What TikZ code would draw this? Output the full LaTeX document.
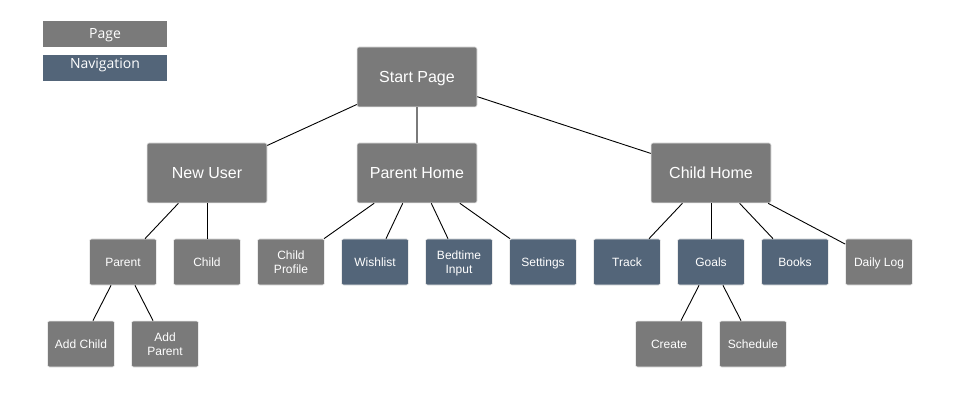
\documentclass[tikz,border=0pt]{standalone}
\usepackage{fontspec}
\setmainfont{Liberation Sans}
\newfontfamily\legendfont{Open Sans}
\definecolor{pagegray}{HTML}{7A7A7A}
\definecolor{navblue}{HTML}{536579}
\begin{document}
\begin{tikzpicture}[x=1pt,y=-1pt,
  box/.style={rectangle, rounded corners=2pt, inner sep=0pt, text=white, align=center, text depth=0pt, draw=white!85!pagegray, line width=0.6pt},
  bigbox/.style={box, fill=pagegray, minimum width=120pt, minimum height=60pt, font=\fontsize{16}{19}\selectfont},
  pagebox/.style={box, fill=pagegray, minimum width=67pt, minimum height=46pt, font=\fontsize{12}{13.5}\selectfont},
  navbox/.style={pagebox, fill=navblue},
  legendbox/.style={rectangle, inner sep=0pt, text depth=0pt, minimum width=124pt, minimum height=26pt, text=white, font=\legendfont\fontsize{14}{16}\selectfont},
  link/.style={draw=black, line width=0.9pt}]
\useasboundingbox[fill=white] (0,0) rectangle (960,403);
% legend
\node[legendbox, fill=pagegray] (lgpage) at (105,34) {Page};
\node[legendbox, fill=navblue] (lgnav) at (105,68) {\raisebox{9.5pt}{Navigation}};
% level 1-2
\node[bigbox] (start) at (417,77) {Start Page};
\node[bigbox] (newuser) at (207,173) {New User};
\node[bigbox] (parenthome) at (417,173) {Parent Home};
\node[bigbox] (childhome) at (711,173) {Child Home};
% level 3
\node[pagebox] (parent) at (123,262) {Parent};
\node[pagebox] (child) at (207,262) {Child};
\node[pagebox] (childprofile) at (291,262) {Child\\Profile};
\node[navbox] (wishlist) at (375,262) {Wishlist};
\node[navbox] (bedtime) at (459,262) {Bedtime\\Input};
\node[navbox] (settings) at (543,262) {Settings};
\node[navbox] (track) at (627,262) {Track};
\node[navbox] (goals) at (711,262) {Goals};
\node[navbox] (books) at (795,262) {Books};
\node[pagebox] (dailylog) at (879,262) {Daily Log};
% level 4
\node[pagebox] (addchild) at (81,344) {Add Child};
\node[pagebox] (addparent) at (165,344) {Add\\Parent};
\node[pagebox] (create) at (669,344) {Create};
\node[pagebox] (schedule) at (753,344) {Schedule};
% connectors
\draw[link] (start) -- (newuser);
\draw[link, draw=pagegray, line width=1.3pt] (start) -- (parenthome);
\draw[link] (start) -- (childhome);
\draw[link] (newuser) -- (parent);
\draw[link] (newuser) -- (child);
\draw[link] (parenthome) -- (childprofile);
\draw[link] (parenthome) -- (wishlist);
\draw[link] (parenthome) -- (bedtime);
\draw[link] (parenthome) -- (settings);
\draw[link] (childhome) -- (track);
\draw[link] (childhome) -- (goals);
\draw[link] (childhome) -- (books);
\draw[link] (childhome) -- (dailylog);
\draw[link] (parent) -- (addchild);
\draw[link] (parent) -- (addparent);
\draw[link] (goals) -- (create);
\draw[link] (goals) -- (schedule);
\end{tikzpicture}
\end{document}
